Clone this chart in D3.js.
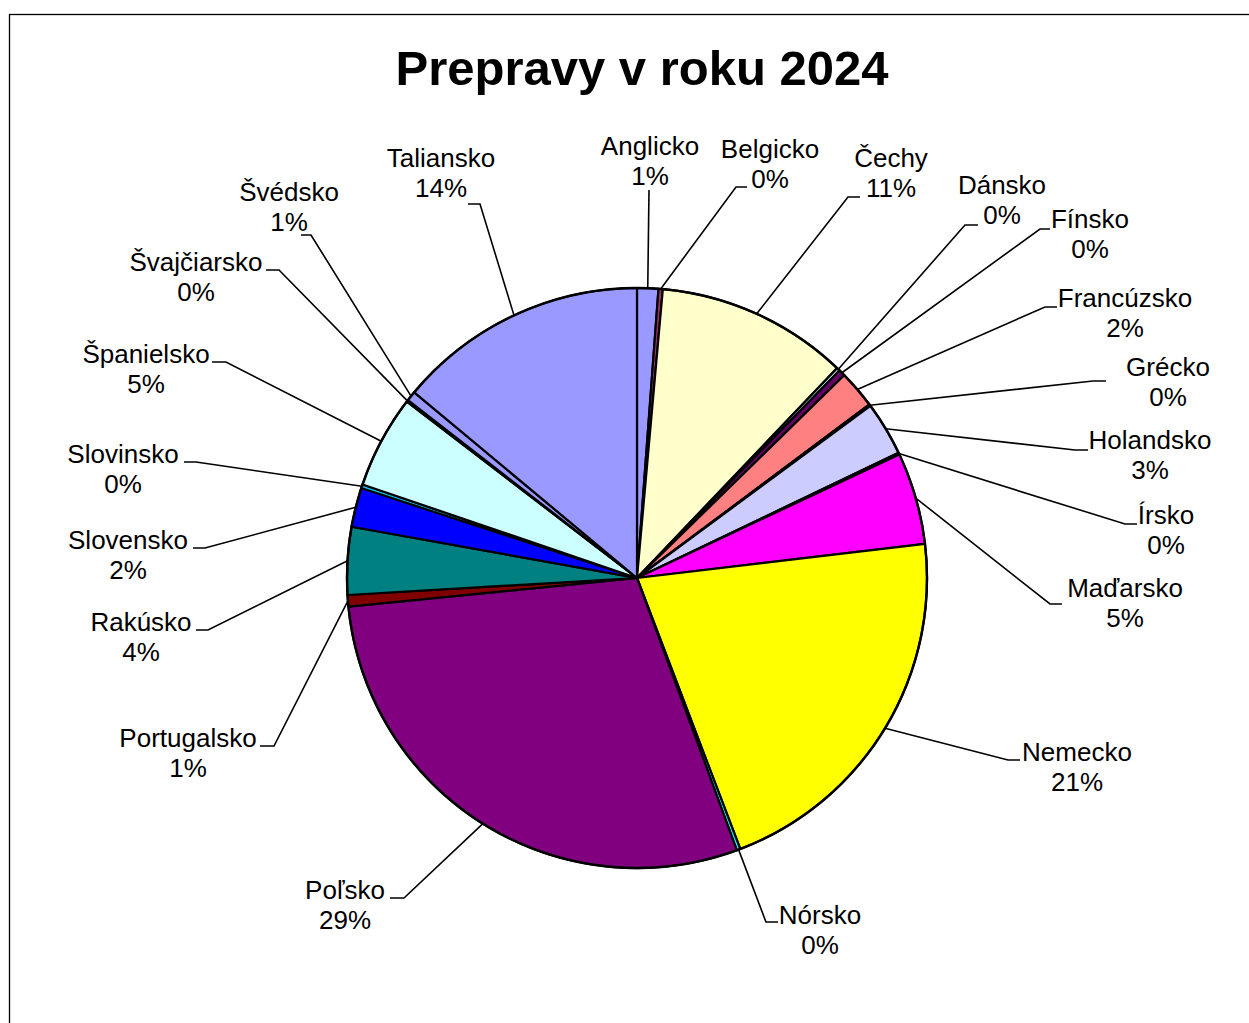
<!DOCTYPE html>
<html>
<head>
<meta charset="utf-8">
<script src="https://cdn.jsdelivr.net/npm/d3@7"></script>
<style>
  html, body { margin: 0; padding: 0; background: #fff; }
  svg { display: block; }
  text { font-family: Arial, "Liberation Sans", sans-serif; fill: #000; }
</style>
</head>
<body>
<svg id="chart" width="1249" height="1023"></svg>
<script>
// ---- data ----
const titleText = "Prepravy v roku 2024";
const categories = ["Anglicko","Belgicko","Čechy","Dánsko","Fínsko","Francúzsko","Grécko","Holandsko","Írsko","Maďarsko","Nemecko","Nórsko","Poľsko","Portugalsko","Rakúsko","Slovensko","Slovinsko","Španielsko","Švajčiarsko","Švédsko","Taliansko"];
const values = [1.18,0.24,10.70,0.18,0.37,2.12,0.10,3.00,0.10,5.13,21.08,0.20,29.02,0.64,3.76,2.19,0.21,5.18,0.10,0.55,13.94];
const colors = ["#9999FF","#993366","#FFFFCC","#CCFFFF","#660066","#FF8080","#0066CC","#CCCCFF","#000080","#FF00FF","#FFFF00","#00FFFF","#800080","#800000","#008080","#0000FF","#00CCFF","#CCFFFF","#CCFFCC","#9999FF","#9999FF"];

// ---- layout (label placement, Excel-style) ----
// [text centre x, name line centre y, elbow x, elbow y, end x]
const labelLayout = [
  [650,146, 649,190, 649],
  [770,149, 736,187, 747],
  [891,158, 848,197, 860],
  [1002,185, 965,225, 978],
  [1090,219, 1040,229, 1050],
  [1125,298, 1045,307, 1057],
  [1168,367, 1093,381, 1106],
  [1150,440, 1075,450, 1088],
  [1166,515, 1125,524, 1137],
  [1125,588, 1050,604, 1062],
  [1077,752, 1008,760, 1020],
  [820,915, 766,922, 778],
  [345,890, 404,898, 390],
  [188,738, 274,746, 260],
  [141,622, 208,630, 196],
  [128,540, 205,548, 193],
  [123,454, 196,462, 184],
  [146,354, 226,362, 212],
  [196,262, 279,270, 266],
  [289,192, 311,235, 301],
  [441,158, 480,204, 468]
];

const svg = d3.select("#chart");
const cx = 637, cy = 578, R = 290;
const fontSize = 26;

// outer frame
svg.append("rect")
  .attr("x", 9.5).attr("y", 14.5)
  .attr("width", 1400).attr("height", 1200)
  .attr("fill", "none").attr("stroke", "#000").attr("stroke-width", 1.3);

// title
svg.append("text")
  .attr("x", 642).attr("y", 85)
  .attr("text-anchor", "middle")
  .style("font-size", "49px").style("font-weight", "bold")
  .text(titleText);

const total = d3.sum(values);
const data = categories.map((c, i) => ({ name: c, value: values[i], color: colors[i], layout: labelLayout[i] }));

const pie = d3.pie().sort(null).value(d => d.value);
const arcs = pie(data);
const arc = d3.arc().innerRadius(0).outerRadius(R);

const g = svg.append("g").attr("transform", `translate(${cx},${cy})`);

g.selectAll("path.slice")
  .data(arcs)
  .enter().append("path")
  .attr("class", "slice")
  .attr("d", arc)
  .attr("fill", d => d.data.color)
  .attr("stroke", "#000")
  .attr("stroke-width", 2.2)
  .attr("stroke-linejoin", "round");

// outer ring stroke
g.append("circle").attr("r", R).attr("fill", "none").attr("stroke", "#000").attr("stroke-width", 2.4);

// leader lines
const lines = svg.append("g");
arcs.forEach(a => {
  const mid = (a.startAngle + a.endAngle) / 2;
  const sx = cx + R * Math.sin(mid);
  const sy = cy - R * Math.cos(mid);
  const L = a.data.layout;
  const pts = [[sx, sy], [L[2], L[3]], [L[4], L[3]]];
  lines.append("path")
    .attr("d", d3.line()(pts))
    .attr("fill", "none")
    .attr("stroke", "#000")
    .attr("stroke-width", 1.6);
});

// labels
const fmt = v => Math.round(v / total * 100) + "%";
const labels = svg.append("g");
arcs.forEach(a => {
  const L = a.data.layout;
  const t = labels.append("text")
    .attr("text-anchor", "middle")
    .style("font-size", fontSize + "px");
  t.append("tspan").attr("x", L[0]).attr("y", L[1] + 9).text(a.data.name);
  t.append("tspan").attr("x", L[0]).attr("y", L[1] + 39).text(fmt(a.data.value));
});
</script>
</body>
</html>
